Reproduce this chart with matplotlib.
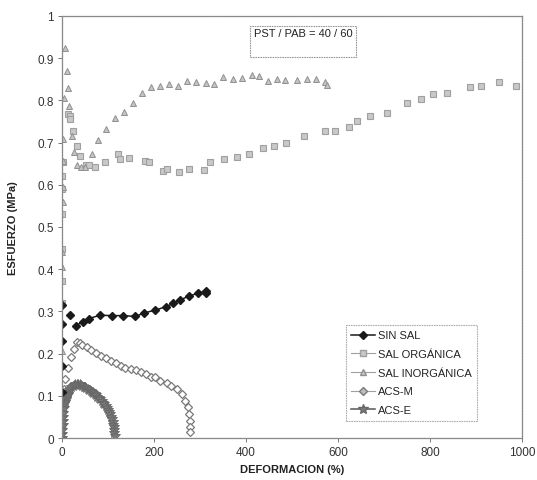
import matplotlib
matplotlib.use('Agg')
import matplotlib.pyplot as plt
from matplotlib.lines import Line2D
from matplotlib.patches import Rectangle

plt.rcParams['font.family'] = ['Liberation Sans', 'DejaVu Sans']

# SIN SAL
sin_x = [1, 1, 1, 1, 1, 17, 30, 45, 58, 83, 108, 133, 159, 178, 202, 226, 242, 257, 275, 296, 313, 313]
sin_y = [0.11, 0.17, 0.23, 0.27, 0.315, 0.291, 0.266, 0.276, 0.283, 0.291, 0.290, 0.290, 0.288,
         0.296, 0.303, 0.311, 0.319, 0.327, 0.336, 0.343, 0.349, 0.344]

# SAL ORGANICA
org_x = [1, 1, 1, 1, 1, 1, 3, 13, 17, 17, 23, 32, 38, 52, 59, 72, 93, 122, 126, 146, 180, 190,
         219, 228, 254, 275, 309, 322, 352, 380, 407, 438, 461, 487, 526, 572, 593, 624, 642, 670,
         706, 749, 780, 807, 836, 887, 912, 951, 988]
org_y = [0.32, 0.372, 0.448, 0.531, 0.59, 0.62, 0.655, 0.768, 0.763, 0.756, 0.728, 0.693, 0.669,
         0.647, 0.648, 0.643, 0.653, 0.673, 0.661, 0.663, 0.657, 0.653, 0.633, 0.637, 0.630, 0.637,
         0.636, 0.655, 0.661, 0.667, 0.673, 0.686, 0.693, 0.699, 0.715, 0.727, 0.727, 0.736, 0.752,
         0.762, 0.769, 0.794, 0.803, 0.814, 0.818, 0.831, 0.833, 0.844, 0.833]

# SAL INORGANICA
ino_x = [1, 1, 1, 2, 2, 3, 3, 4, 6.5, 10, 14, 15, 21, 25, 32, 42, 50, 65, 79, 96, 115, 135, 154,
         173, 193, 213, 233, 252, 271, 291, 312, 330, 351, 371, 391, 412, 429, 448, 468, 485, 510,
         532, 552, 572, 577]
ino_y = [0.207, 0.405, 0.44, 0.559, 0.594, 0.657, 0.708, 0.806, 0.923, 0.870, 0.829, 0.786, 0.716,
         0.677, 0.648, 0.643, 0.641, 0.673, 0.705, 0.732, 0.758, 0.773, 0.793, 0.817, 0.832, 0.833,
         0.840, 0.835, 0.847, 0.843, 0.841, 0.839, 0.855, 0.851, 0.852, 0.860, 0.857, 0.847, 0.851,
         0.848, 0.849, 0.851, 0.851, 0.843, 0.836]

# ACS-M
acm_x = [1, 1, 1, 2, 4, 6.5, 12, 19, 26, 32, 39, 43, 54, 63, 73, 84, 95, 106, 117, 128, 138, 149,
         160, 171, 182, 193, 202, 213, 228, 238, 249, 260, 267, 273, 276, 278, 278, 278]
acm_y = [0.0, 0.03, 0.06, 0.09, 0.115, 0.14, 0.167, 0.191, 0.211, 0.227, 0.224, 0.22, 0.215, 0.209,
         0.201, 0.195, 0.189, 0.182, 0.177, 0.171, 0.167, 0.163, 0.160, 0.156, 0.152, 0.145, 0.144,
         0.136, 0.130, 0.124, 0.116, 0.104, 0.088, 0.073, 0.057, 0.041, 0.025, 0.015]

# ACS-E
ace_x = [0, 0.5, 1, 1.5, 2, 2.5, 3, 4, 5, 6, 7, 8, 10, 12, 14, 16, 18, 20, 23, 26, 29, 32, 35, 38,
         41, 44, 47, 50, 53, 56, 59, 62, 65, 68, 71, 74, 77, 80, 83, 86, 89, 92, 95, 98, 100, 102,
         104, 106, 108, 110, 111, 112, 113, 114, 115]
ace_y = [0, 0.01, 0.02, 0.03, 0.04, 0.05, 0.06, 0.07, 0.08, 0.085, 0.09, 0.095, 0.10, 0.105, 0.11,
         0.114, 0.117, 0.12, 0.123, 0.126, 0.127, 0.128, 0.128, 0.127, 0.126, 0.124, 0.122, 0.12,
         0.118, 0.116, 0.114, 0.112, 0.109, 0.107, 0.104, 0.101, 0.098, 0.095, 0.092, 0.088, 0.084,
         0.08, 0.075, 0.07, 0.066, 0.061, 0.056, 0.05, 0.044, 0.037, 0.032, 0.026, 0.019, 0.012, 0.004]

labels = ['SIN SAL', 'SAL ORGÁNICA', 'SAL INORGÁNICA', 'ACS-M', 'ACS-E']
x_ticks = [0, 200, 400, 600, 800, 1000]
y_ticks = [0, 0.1, 0.2, 0.3, 0.4, 0.5, 0.6, 0.7, 0.8, 0.9, 1]
y_ticklabels = ['0', '0.1', '0.2', '0.3', '0.4', '0.5', '0.6', '0.7', '0.8', '0.9', '1']

fig, ax = plt.subplots(figsize=(5.37, 4.81), dpi=100)
fig.subplots_adjust(left=0.1155, right=0.972, bottom=0.0873, top=0.9647)

ax.plot(org_x, org_y, ls='none', marker='s', ms=4.2, mfc='#c8c8c8', mec='#a0a0a0', mew=0.8)
ax.plot(ino_x, ino_y, ls='none', marker='^', ms=4.0, mfc='#c4c4c4', mec='#909090', mew=0.7)
ax.plot(acm_x, acm_y, ls='none', marker='D', ms=3.6, mfc='white', mec='#7a7a7a', mew=0.9)
ax.plot(ace_x, ace_y, ls='none', marker='*', ms=7.5, mfc='#7a7a7a', mec='#666666', mew=0.6)
ax.plot(sin_x[6:], sin_y[6:], color='#1a1a1a', lw=1.1)
ax.plot(sin_x, sin_y, ls='none', marker='D', ms=3.6, mfc='#1a1a1a', mec='#1a1a1a')

ax.set_xlim(0, 1000)
ax.set_ylim(0, 1)
ax.set_xticks(x_ticks)
ax.set_yticks(y_ticks)
ax.set_yticklabels(y_ticklabels)
ax.tick_params(direction='out', length=3, width=0.7, color='#777777', labelsize=8.5,
               labelcolor='#333333', pad=3)
for s in ax.spines.values():
    s.set_color('#8a8a8a')
    s.set_linewidth(0.9)
    s.set_linestyle((0, (1.5, 0.7)))

ax.set_xlabel('DEFORMACION (%)', fontsize=8, fontweight='bold', color='#222222', labelpad=4)
ax.set_ylabel('ESFUERZO (MPa)', fontsize=8, fontweight='bold', color='#222222', labelpad=14)

# annotation box
ax.add_patch(Rectangle((0.409, 0.903), 0.23, 0.073, transform=ax.transAxes, fill=False,
                       ec='#9a9a9a', lw=0.8, ls=(0, (1.5, 0.7))))
ax.text(0.418, 0.972, 'PST / PAB = 40 / 60', transform=ax.transAxes, fontsize=8,
        color='#222222', va='top', ha='left')

handles = [
    Line2D([], [], color='#1a1a1a', lw=1.1, marker='D', ms=3.6, mfc='#1a1a1a', mec='#1a1a1a'),
    Line2D([], [], color='#a0a0a0', lw=0.8, marker='s', ms=4.2, mfc='#c8c8c8', mec='#a0a0a0'),
    Line2D([], [], color='#a0a0a0', lw=0.8, marker='^', ms=4.0, mfc='#c4c4c4', mec='#909090'),
    Line2D([], [], color='#a0a0a0', lw=0.8, marker='D', ms=3.6, mfc='#bdbdbd', mec='#7a7a7a'),
    Line2D([], [], color='#555555', lw=1.1, marker='*', ms=7, mfc='#7a7a7a', mec='#666666'),
]
leg = ax.legend(handles, labels, loc='upper left', bbox_to_anchor=(0.617, 0.268),
                borderaxespad=0, fontsize=8, frameon=True, fancybox=False, borderpad=0.5,
                labelspacing=0.78, handlelength=2.1, handletextpad=0.3)
leg.get_frame().set_edgecolor('#9a9a9a')
leg.get_frame().set_linewidth(0.8)
leg.get_frame().set_linestyle((0, (1.5, 0.7)))
for t in leg.get_texts():
    t.set_color('#222222')

fig.savefig('out.png', dpi=100)
